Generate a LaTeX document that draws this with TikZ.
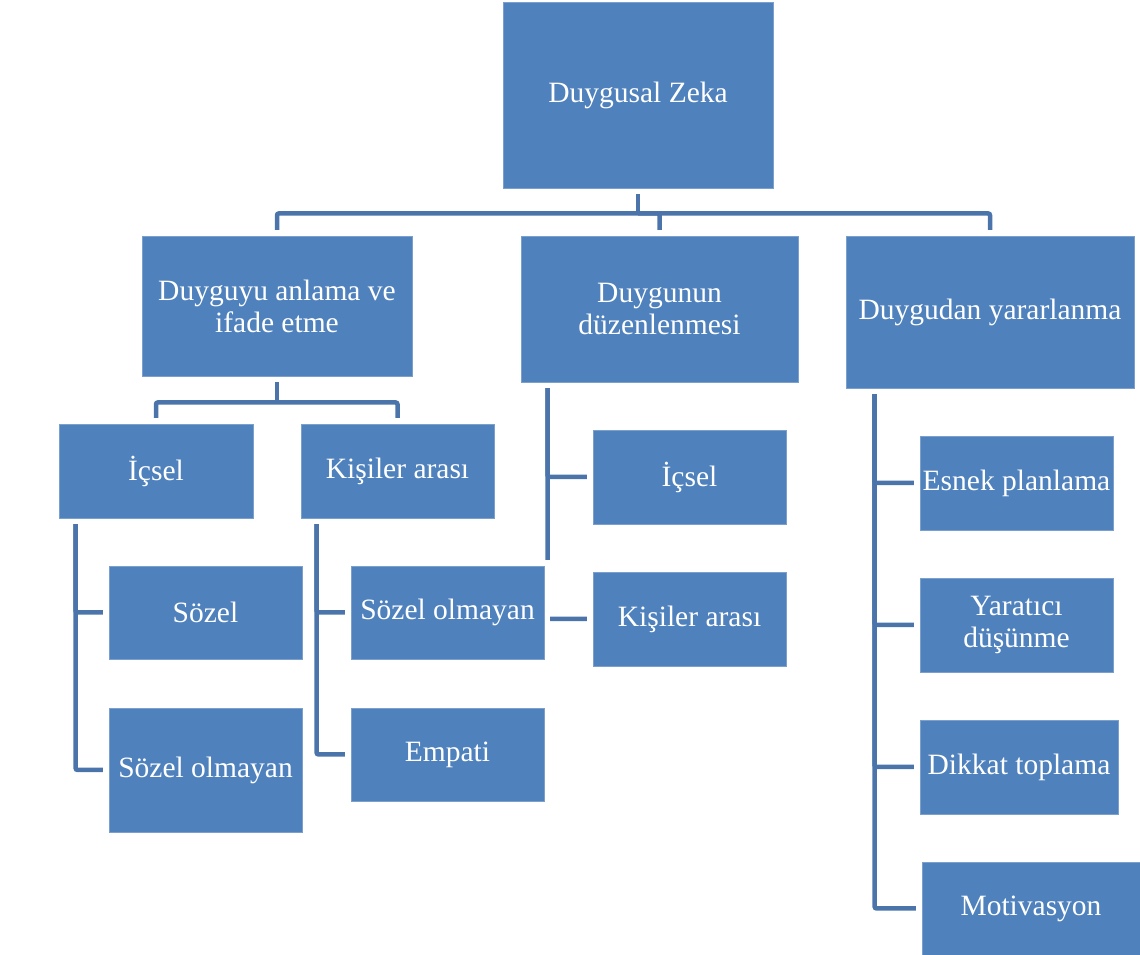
\documentclass[tikz,border=0pt]{standalone}
\usepackage{fontspec}
\setmainfont{Liberation Serif}
\usetikzlibrary{backgrounds}
\definecolor{kutumavi}{HTML}{4F81BD}
\definecolor{cizgimavi}{HTML}{4A74AA}

\begin{document}
\begin{tikzpicture}[x=1pt, y=1pt,
		kutu/.style={fill=kutumavi, draw=kutumavi!75!white, line width=.8pt, text=white, align=center, inner sep=0pt,
			font=\fontsize{29.5}{32}\selectfont, preaction={draw=white, line width=12pt}},
		baglanti/.style={color=cizgimavi, line width=4.5pt, rounded corners=2pt}]
		\useasboundingbox (0,0) rectangle (1140,955);
		% kutular
		\node[kutu, minimum width=270, minimum height=186] (zeka) at (638,860) {Duygusal Zeka};
		\node[kutu, minimum width=270, minimum height=140] (anlama) at (277,649) {Duyguyu anlama ve\\ifade etme};
		\node[kutu, minimum width=277, minimum height=146] (duzenleme) at (659.5,646) {Duygunun\\düzenlenmesi};
		\node[kutu, minimum width=288, minimum height=152] (yararlanma) at (990,643) {Duygudan yararlanma};
		\node[kutu, minimum width=194, minimum height=94] (icsel1) at (156,484) {İçsel};
		\node[kutu, minimum width=193, minimum height=94] (kisiler1) at (397.5,484) {Kişiler arası};
		\node[kutu, minimum width=193, minimum height=93] (sozel1) at (205.5,342.5) {Sözel};
		\node[kutu, minimum width=193, minimum height=124] (sozelolm1) at (205.5,185) {Sözel olmayan};
		\node[kutu, minimum width=193, minimum height=93] (sozelolm2) at (447.5,342.5) {Sözel olmayan};
		\node[kutu, minimum width=193, minimum height=93] (empati) at (447.5,200.5) {Empati};
		\node[kutu, minimum width=193, minimum height=94] (icsel2) at (689.5,478) {İçsel};
		\node[kutu, minimum width=193, minimum height=94] (kisiler2) at (689.5,336) {Kişiler arası};
		\node[kutu, minimum width=193, minimum height=94] (esnek) at (1016.5,472) {Esnek planlama};
		\node[kutu, minimum width=193, minimum height=94] (yaratici) at (1016.5,330) {Yaratıcı\\düşünme};
		\node[kutu, minimum width=198, minimum height=94] (dikkat) at (1019,188) {Dikkat toplama};
		\node[kutu, minimum width=218, minimum height=93] (motivasyon) at (1031,46.5) {Motivasyon};
		% baglantilar
		\begin{scope}[on background layer]
			\coordinate (k0) at ([yshift=-25pt]zeka.south);
			\draw[baglanti] (zeka.south) -- (k0);
			\draw[baglanti] (anlama.north) |- (k0) -| (yararlanma.north);
			\draw[baglanti] (k0) -| (duzenleme.north);
			\coordinate (k1) at ([yshift=-26pt]anlama.south);
			\draw[baglanti] (anlama.south) -- (k1);
			\draw[baglanti] (icsel1.north) |- (k1) -| (kisiler1.north);
			\draw[baglanti] ([xshift=17pt]icsel1.south west) |- (sozel1.west);
			\draw[baglanti] ([xshift=17pt]icsel1.south west) |- (sozelolm1.west);
			\draw[baglanti] ([xshift=16pt]kisiler1.south west) |- (sozelolm2.west);
			\draw[baglanti] ([xshift=16pt]kisiler1.south west) |- (empati.west);
			\draw[baglanti] ([xshift=27pt]duzenleme.south west) |- (icsel2.west);
			\draw[baglanti] ([xshift=27pt]duzenleme.south west) |- (kisiler2.west);
			\draw[baglanti] ([xshift=29pt]yararlanma.south west) |- (esnek.west);
			\draw[baglanti] ([xshift=29pt]yararlanma.south west) |- (yaratici.west);
			\draw[baglanti] ([xshift=29pt]yararlanma.south west) |- (dikkat.west);
			\draw[baglanti] ([xshift=29pt]yararlanma.south west) |- (motivasyon.west);
		\end{scope}
	\end{tikzpicture}
\end{document}
